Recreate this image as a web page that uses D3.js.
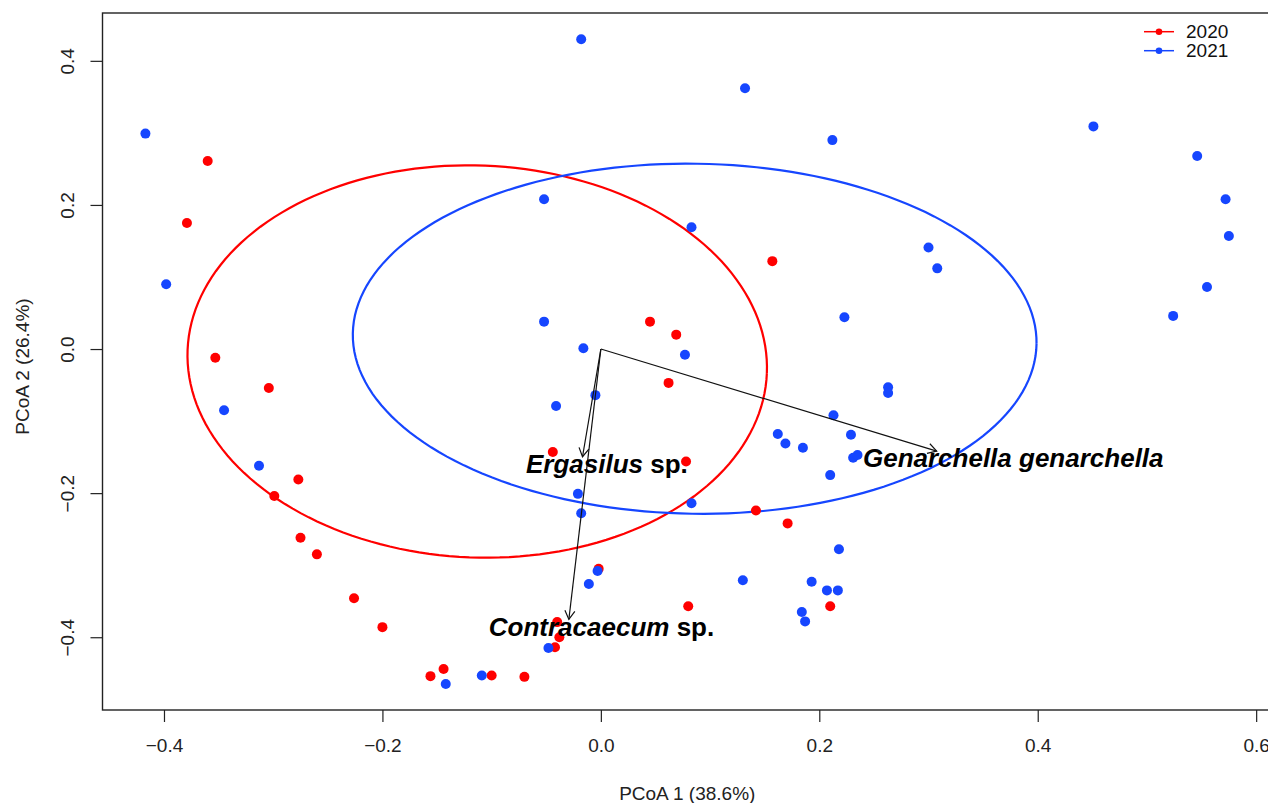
<!DOCTYPE html>
<html>
<head>
<meta charset="utf-8">
<script src="https://cdn.jsdelivr.net/npm/d3@7"></script>
<style>
  body { margin: 0; background: #fff; }
  svg { display: block; font-family: "Liberation Sans", Arial, Helvetica, sans-serif; }
</style>
</head>
<body>
<div id="chart"></div>
<script>
// PCoA scores, 2020 samples
var x2020 = [-0.360, -0.379, 0.157, -0.353, -0.304, -0.277, -0.299, -0.275, -0.260, -0.226,
             -0.200, 0.045, 0.069, 0.062, -0.044, 0.078, 0.142, 0.171, -0.002, 0.080,
             0.210, -0.040, -0.038, -0.042, -0.144, -0.156, -0.100, -0.070];
var y2020 = [0.261, 0.175, 0.122, -0.012, -0.054, -0.181, -0.204, -0.262, -0.285, -0.346,
             -0.386, 0.038, 0.020, -0.047, -0.143, -0.156, -0.224, -0.242, -0.305, -0.357,
             -0.357, -0.379, -0.400, -0.414, -0.444, -0.454, -0.453, -0.455];

// PCoA scores, 2021 samples
var x2021 = [-0.417, -0.018, 0.132, 0.212, 0.451, 0.546, 0.572, 0.575, 0.300, 0.308,
             -0.398, -0.052, 0.083, 0.223, 0.524, 0.555, -0.052, -0.016, 0.077, 0.263,
             0.263, -0.345, -0.041, -0.005, 0.213, 0.229, 0.162, 0.169, 0.185, 0.231,
             0.235, 0.210, -0.313, -0.021, -0.018, 0.083, 0.218, -0.003, -0.011, 0.130,
             0.193, 0.207, 0.217, 0.184, 0.187, -0.048, -0.142, -0.109];
var y2021 = [0.299, 0.430, 0.362, 0.290, 0.309, 0.268, 0.208, 0.157, 0.141, 0.112,
             0.090, 0.208, 0.169, 0.044, 0.046, 0.086, 0.038, 0.001, -0.008, -0.053,
             -0.061, -0.085, -0.079, -0.064, -0.092, -0.119, -0.118, -0.131, -0.137, -0.151,
             -0.147, -0.175, -0.162, -0.201, -0.228, -0.214, -0.278, -0.308, -0.326, -0.321,
             -0.323, -0.335, -0.335, -0.365, -0.378, -0.415, -0.465, -0.453];

var years = ["2020", "2021"];
var yearColors = ["#ff0000", "#1646ff"];

// group ellipses: centre and two half-axis vectors (data units)
var ellCenter = [[-0.1132, -0.0173], [0.0859, 0.0143]];
var ellAxisA  = [[0.2652, -0.0161], [0.3130, -0.0071]];
var ellAxisB  = [[-0.0072, -0.2718], [-0.0024, -0.2429]];

// fitted species vectors
var species = ["Genarchella genarchella", "Ergasilus sp.", "Contracaecum sp."];
var speciesItalic = [["Genarchella genarchella", ""], ["Ergasilus", " sp."], ["Contracaecum", " sp."]];
var arrowX = [0.3075, -0.0168, -0.0293];
var arrowY = [-0.1416, -0.1495, -0.3752];
var labelX = [0.3776, 0.0055, 0.0006];
var labelY = [-0.151, -0.1596, -0.3854];

var xTicks = [-0.4, -0.2, 0.0, 0.2, 0.4, 0.6];
var yTicks = [-0.4, -0.2, 0.0, 0.2, 0.4];

var width = 1268, height = 803;
var m = {left: 102.5, top: 13, right: 1272, bottom: 710};

var x = d3.scaleLinear().domain([-0.4563, 0.6145]).range([m.left, m.right]);
var y = d3.scaleLinear().domain([-0.501, 0.4664]).range([m.bottom, m.top]);

var svg = d3.select("#chart").append("svg")
    .attr("width", width)
    .attr("height", height);

var fmt = function (d) { return d3.format(".1f")(d).replace("-", "\u2212"); };

// x axis
var xAxis = d3.axisBottom(x).tickValues(xTicks).tickSize(12).tickPadding(10).tickFormat(fmt);
var gx = svg.append("g")
    .attr("transform", "translate(0," + m.bottom + ")")
    .call(xAxis);
gx.select(".domain").remove();
gx.selectAll("line").attr("stroke", "#222").attr("stroke-width", 1.2);
gx.selectAll("text").attr("font-size", 19).attr("fill", "#222").attr("dy", "1.05em");

// y axis, labels turned like R's las=0
var yAxis = d3.axisLeft(y).tickValues(yTicks).tickSize(12).tickFormat(fmt);
var gy = svg.append("g")
    .attr("transform", "translate(" + m.left + ",0)")
    .call(yAxis);
gy.select(".domain").remove();
gy.selectAll("line").attr("stroke", "#222").attr("stroke-width", 1.2);
gy.selectAll("text")
    .attr("font-size", 19)
    .attr("fill", "#222")
    .attr("x", 0).attr("dy", 0)
    .attr("text-anchor", "middle")
    .attr("transform", "translate(-35,0) rotate(-90)")
    .attr("dominant-baseline", "central");

// axis titles
svg.append("text")
    .attr("x", (m.left + m.right) / 2)
    .attr("y", 800)
    .attr("text-anchor", "middle")
    .attr("font-size", 19)
    .attr("fill", "#222")
    .text("PCoA 1 (38.6%)");

svg.append("text")
    .attr("transform", "translate(29," + ((m.top + m.bottom) / 2 + 5) + ") rotate(-90)")
    .attr("text-anchor", "middle")
    .attr("font-size", 19)
    .attr("fill", "#222")
    .text("PCoA 2 (26.4%)");

var plot = svg.append("g");

// ellipses
var line = d3.line().x(function (d) { return x(d[0]); }).y(function (d) { return y(d[1]); });
var steps = d3.range(0, 361, 2);
years.forEach(function (yr, i) {
    var pts = steps.map(function (deg) {
        var t = deg * Math.PI / 180;
        return [ellCenter[i][0] + ellAxisA[i][0] * Math.cos(t) + ellAxisB[i][0] * Math.sin(t),
                ellCenter[i][1] + ellAxisA[i][1] * Math.cos(t) + ellAxisB[i][1] * Math.sin(t)];
    });
    plot.append("path")
        .attr("d", line(pts))
        .attr("fill", "none")
        .attr("stroke", yearColors[i])
        .attr("stroke-width", 2.2);
});

// points
var groups = [[x2020, y2020], [x2021, y2021]];
groups.forEach(function (g, i) {
    plot.append("g").selectAll("circle")
        .data(g[0])
        .enter().append("circle")
        .attr("cx", function (d) { return x(d); })
        .attr("cy", function (d, j) { return y(g[1][j]); })
        .attr("r", 5)
        .attr("fill", yearColors[i]);
});

// species arrows
species.forEach(function (s, i) {
    var x0 = x(0), y0 = y(0), x1 = x(arrowX[i]), y1 = y(arrowY[i]);
    var ang = Math.atan2(y1 - y0, x1 - x0), hl = 10, ha = Math.PI / 6;
    plot.append("line")
        .attr("x1", x0).attr("y1", y0).attr("x2", x1).attr("y2", y1)
        .attr("stroke", "#111").attr("stroke-width", 1.2);
    plot.append("path")
        .attr("d", "M" + (x1 - hl * Math.cos(ang - ha)) + "," + (y1 - hl * Math.sin(ang - ha)) +
                   "L" + x1 + "," + y1 +
                   "L" + (x1 - hl * Math.cos(ang + ha)) + "," + (y1 - hl * Math.sin(ang + ha)))
        .attr("fill", "none").attr("stroke", "#111").attr("stroke-width", 1.2);
});

// species labels
species.forEach(function (s, i) {
    var t = plot.append("text")
        .attr("x", x(labelX[i]))
        .attr("y", y(labelY[i]))
        .attr("text-anchor", "middle")
        .attr("dominant-baseline", "central")
        .attr("font-size", 26)
        .attr("font-weight", "bold")
        .attr("fill", "#000");
    t.append("tspan").attr("font-style", "italic").text(speciesItalic[i][0]);
    if (speciesItalic[i][1]) t.append("tspan").text(speciesItalic[i][1]);
});

// frame
svg.append("rect")
    .attr("x", m.left).attr("y", m.top)
    .attr("width", m.right - m.left).attr("height", m.bottom - m.top)
    .attr("fill", "none").attr("stroke", "#222").attr("stroke-width", 1.4);

// legend
var legend = svg.append("g");
years.forEach(function (yr, i) {
    var ly = 31.7 + i * 19;
    legend.append("line")
        .attr("x1", 1144).attr("x2", 1174).attr("y1", ly).attr("y2", ly)
        .attr("stroke", yearColors[i]).attr("stroke-width", 1.5);
    legend.append("circle")
        .attr("cx", 1159).attr("cy", ly).attr("r", 3.3)
        .attr("fill", yearColors[i]);
    legend.append("text")
        .attr("x", 1186).attr("y", ly)
        .attr("dominant-baseline", "central")
        .attr("font-size", 19)
        .attr("fill", "#111")
        .text(yr);
});
</script>
</body>
</html>
